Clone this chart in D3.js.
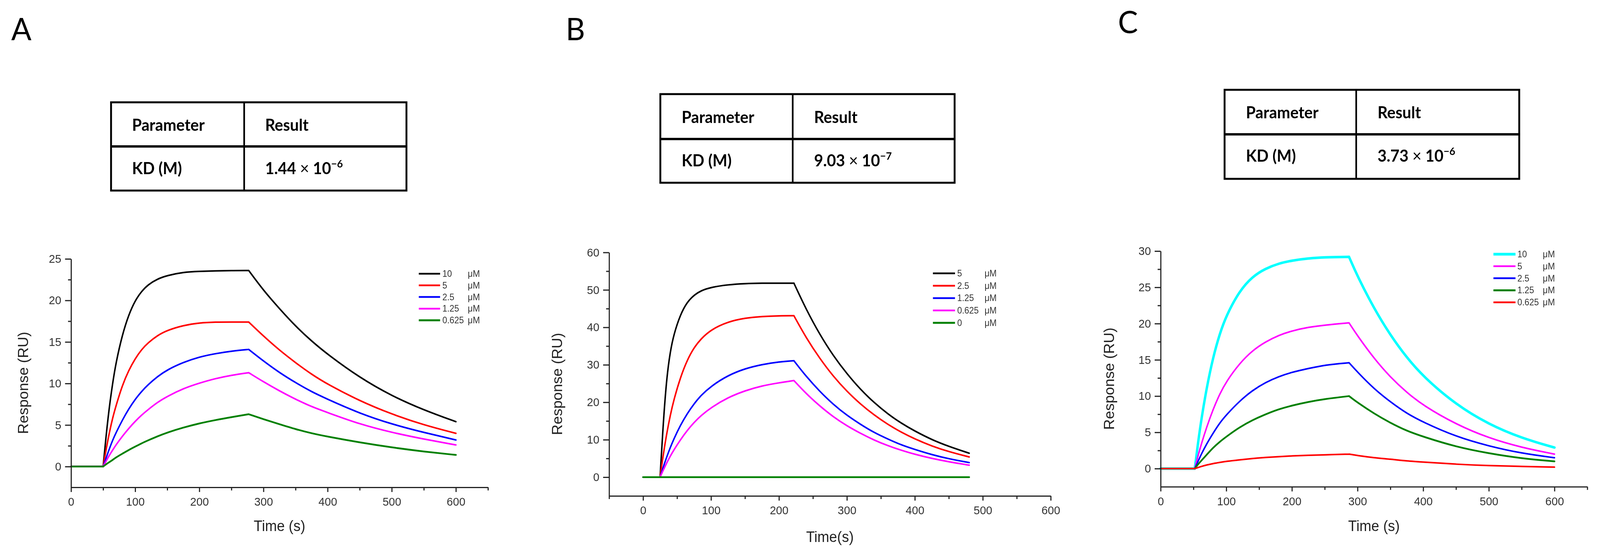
<!DOCTYPE html>
<html>
<head>
<meta charset="utf-8">
<script src="https://cdn.jsdelivr.net/npm/d3@7"></script>
<style>
    html, body { margin:0; padding:0; background:#fff; overflow:hidden; width:100%; height:100%; }
    #chart { position:fixed; left:0; top:0; width:100vw; height:100vh; }
    svg { display:block; width:100vw; height:100vh; }
</style>
</head>
<body>
<div id="chart"></div>
<script>
// ---------- values ----------
var panelLetters = ["A", "B", "C"];
var kdMantissa = ["1.44", "9.03", "3.73"];
var kdExponent = ["\u22126", "\u22127", "\u22126"];
var unitLabel = "\u03bcM";

// panel A
var timesA = [0,50,55,60,65,70,80,90,100,110,120,135,150,175,200,225,250,277,300,325,350,375,400,450,500,550,600];
var injectA = [50, 277];
var concA = ["10", "5", "2.5", "1.25", "0.625"];
var a10  = [0,0,4.0,7.4,10.1,12.5,15.9,18.3,20.0,21.1,21.9,22.6,23.0,23.4,23.5,23.55,23.6,23.6,21.2,19.0,16.9,15.1,13.5,10.7,8.5,6.8,5.4];
var a5   = [0,0,2.2,4.2,5.9,7.3,9.8,11.6,13.0,14.1,14.9,15.8,16.4,17.0,17.3,17.4,17.4,17.4,15.7,14.0,12.5,11.1,9.9,7.9,6.3,5.0,4.0];
var a25  = [0,0,1.1,2.2,3.2,4.05,5.6,6.95,8.1,9.05,9.85,10.85,11.65,12.55,13.2,13.6,13.9,14.1,12.7,11.3,10.1,9.0,8.1,6.4,5.1,4.1,3.2];
var a125 = [0,0,0.7,1.4,2.0,2.6,3.65,4.6,5.45,6.2,6.85,7.75,8.45,9.4,10.05,10.6,11.0,11.3,10.2,9.1,8.1,7.2,6.5,5.1,4.1,3.3,2.6];
var a0625= [0,0,0.3,0.55,0.8,1.1,1.55,2.0,2.4,2.8,3.15,3.65,4.1,4.7,5.2,5.6,5.95,6.3,5.7,5.1,4.5,4.0,3.6,2.9,2.3,1.8,1.4];
var xTicksA = [0,100,200,300,400,500,600];
var xMinorA = [50,150,250,350,450,550,650];
var yTicksA = [0,5,10,15,20,25];
var yMinorA = [2.5,7.5,12.5,17.5,22.5];

// panel B
var timesB = [0,25,30,35,40,45,55,65,75,85,100,125,150,175,200,222,240,260,280,300,320,340,360,380,400,425,450,480];
var injectB = [25, 222];
var concB = ["5", "2.5", "1.25", "0.625", "0"];
var b5   = [0,0,15.5,27.0,33.5,38.0,43.5,46.8,48.6,49.8,50.7,51.4,51.7,51.8,51.8,51.8,44.8,38.1,32.4,27.6,23.4,19.9,16.9,14.4,12.3,10.0,8.2,6.4];
var b25  = [0,0,6.4,11.9,16.5,20.5,26.7,31.3,34.6,36.9,39.4,41.5,42.5,42.9,43.1,43.1,37.2,31.7,26.9,22.9,19.5,16.6,14.1,12.0,10.2,8.3,6.8,5.4];
var b125 = [0,0,2.9,5.5,7.9,10.1,13.9,17.0,19.6,21.8,24.3,27.2,29.0,30.1,30.8,31.1,26.9,22.9,19.4,16.5,14.1,11.9,10.2,8.6,7.4,6.0,4.9,3.9];
var b0625= [0,0,2.0,3.9,5.6,7.2,10.0,12.5,14.6,16.4,18.6,21.3,23.1,24.4,25.2,25.8,22.3,19.0,16.1,13.7,11.7,9.9,8.4,7.2,6.1,5.0,4.1,3.2];
var b0   = [0,0,0,0,0,0,0,0,0,0,0,0,0,0,0,0,0,0,0,0,0,0,0,0,0,0,0,0];
var xTicksB = [0,100,200,300,400,500,600];
var xMinorB = [-50,50,150,250,350,450,550];
var yTicksB = [0,10,20,30,40,50,60];
var yMinorB = [5,15,25,35,45,55];

// panel C
var timesC = [0,52,57,62,70,80,90,100,120,140,160,180,200,225,250,287,300,325,350,375,400,450,500,550,600];
var injectC = [52, 287];
var concC = ["10", "5", "2.5", "1.25", "0.625"];
var c10  = [0,0,3.6,6.8,11.1,15.4,18.6,21.1,24.5,26.5,27.6,28.3,28.7,29.0,29.15,29.2,26.5,22.1,18.4,15.3,12.7,8.8,6.1,4.2,2.9];
var c5   = [0,0,1.8,3.4,5.7,8.2,10.3,12.0,14.5,16.3,17.5,18.4,19.0,19.5,19.8,20.1,18.3,15.2,12.6,10.5,8.7,6.1,4.2,2.9,2.0];
var c25  = [0,0,1.0,2.0,3.4,4.9,6.3,7.4,9.3,10.8,11.9,12.7,13.3,13.8,14.3,14.6,13.3,11.0,9.2,7.6,6.4,4.4,3.1,2.1,1.5];
var c125 = [0,0,0.6,1.1,1.9,2.9,3.7,4.4,5.7,6.7,7.5,8.2,8.7,9.2,9.6,10.0,9.1,7.6,6.3,5.2,4.4,3.0,2.1,1.4,1.0];
var c0625= [0,0,0.15,0.3,0.5,0.7,0.85,1.0,1.2,1.4,1.55,1.65,1.75,1.85,1.9,2.0,1.8,1.5,1.3,1.05,0.9,0.6,0.4,0.3,0.2];
var xTicksC = [0,100,200,300,400,500,600];
var xMinorC = [50,150,250,350,450,550,650];
var yTicksC = [0,5,10,15,20,25,30];
var yMinorC = [2.5,7.5,12.5,17.5,22.5,27.5];

// ---------- layout ----------
var W = 4279, H = 1429;
var axisColor = "#222";
var tickColor = "#333";
var sansAxis = "'Liberation Sans', Arial, sans-serif";
var sansTable = "Lato, 'Open Sans', sans-serif";

// the drawing is laid out in a 4279x1429 box and stretched to the window
var svg = d3.select('#chart').append('svg')
    .attr('viewBox', '0 0 ' + W + ' ' + H)
    .attr('preserveAspectRatio', 'none');
svg.append('rect').attr('width', W).attr('height', H).attr('fill', '#fff');

var panels = [
    {
        times: timesA, inject: injectA, series: [a10, a5, a25, a125, a0625], conc: concA,
        colors: ["#000000", "#ff0000", "#0000ff", "#ff00ff", "#008000"],
        widths: [4, 4, 4, 4, 4.5],
        xDomain: [0, 650], xRange: [190, 1305], yDomain: [-2.5, 25], yRange: [1248, 663],
        xTicks: xTicksA, xMinor: xMinorA, yTicks: yTicksA, yMinor: yMinorA,
        xTitle: "Time (s)", xTitleY: 1360, yTitleX: 62,
        legend: {lineX: 1120, lineW: 57, textX: 1183, unitX: 1251, y0: 701, dy: 29.8},
        letter: {x: 30, y: 103},
        table: {x: 297, y: 262, w: 790, h: 226, split: 653, row: 375, pad: 56, base1: 335, base2: 446}
    },
    {
        times: timesB, inject: injectB, series: [b5, b25, b125, b0625, b0], conc: concB,
        colors: ["#000000", "#ff0000", "#0000ff", "#ff00ff", "#008000"],
        widths: [4, 4, 4, 4, 4.5],
        xDomain: [-50, 600], xRange: [1629, 2810], yDomain: [-5, 60], yRange: [1270, 646.5],
        xTicks: xTicksB, xMinor: xMinorB, yTicks: yTicksB, yMinor: yMinorB,
        xTitle: "Time(s)", xTitleY: 1388, yTitleX: 1490,
        legend: {lineX: 2495, lineW: 59, textX: 2560, unitX: 2633, y0: 700, dy: 31.7},
        letter: {x: 1513, y: 103},
        table: {x: 1766, y: 241, w: 787, h: 227, split: 2120, row: 356, pad: 57, base1: 315, base2: 426}
    },
    {
        times: timesC, inject: injectC, series: [c10, c5, c25, c125, c0625], conc: concC,
        colors: ["#00ffff", "#ff00ff", "#0000ff", "#008000", "#ff0000"],
        widths: [6.5, 4, 4, 4.5, 4],
        xDomain: [0, 650], xRange: [3104, 4245], yDomain: [-2.5, 30], yRange: [1246.5, 643],
        xTicks: xTicksC, xMinor: xMinorC, yTicks: yTicksC, yMinor: yMinorC,
        xTitle: "Time (s)", xTitleY: 1360, yTitleX: 2966,
        legend: {lineX: 3994, lineW: 59, textX: 4058, unitX: 4126, y0: 651, dy: 30.8},
        letter: {x: 2990, y: 85},
        table: {x: 3275, y: 230, w: 788, h: 228, split: 3627, row: 344, pad: 57, base1: 303, base2: 414}
    }
];

function styleAxis(sel){
    sel.selectAll('line').attr('stroke', axisColor).attr('stroke-width', 3);
    sel.selectAll('path.domain').attr('stroke', axisColor).attr('stroke-width', 3);
    sel.selectAll('text')
        .attr('fill', tickColor)
        .attr('font-family', sansAxis)
        .attr('font-size', '30px');
}

function drawPanel(p, k){
    var x = d3.scaleLinear().domain(p.xDomain).range(p.xRange);
    var y = d3.scaleLinear().domain(p.yDomain).range(p.yRange);
    var g = svg.append('g').attr('class', 'panel-' + k);

    // curves: baseline, association and dissociation as separate smooth pieces
    var line = d3.line()
        .x(function(d){ return x(d[0]); })
        .y(function(d){ return y(d[1]); })
        .curve(d3.curveBasis);
    var i0 = p.times.indexOf(p.inject[0]);
    var i1 = p.times.indexOf(p.inject[1]);

    g.append('g').selectAll('path')
        .data(p.series)
        .enter().append('path')
        .attr('d', function(vals){
            var pts = p.times.map(function(t, i){ return [t, vals[i]]; });
            return line(pts.slice(0, i0 + 1)) + line(pts.slice(i0, i1 + 1)) + line(pts.slice(i1));
        })
        .attr('fill', 'none')
        .attr('stroke', function(d, i){ return p.colors[i]; })
        .attr('stroke-width', function(d, i){ return p.widths[i]; })
        .attr('stroke-linejoin', 'round')
        .attr('stroke-linecap', 'round');

    // axes
    var bottom = p.yRange[0], left = p.xRange[0];
    g.append('g').attr('transform', 'translate(0,' + bottom + ')')
        .call(d3.axisBottom(x).tickValues(p.xMinor).tickSize(8).tickFormat(''))
        .call(function(s){ s.select('.domain').remove(); })
        .call(styleAxis);
    g.append('g').attr('transform', 'translate(0,' + bottom + ')')
        .call(d3.axisBottom(x).tickValues(p.xTicks).tickSize(12).tickSizeOuter(0).tickPadding(14))
        .call(styleAxis);
    g.append('g').attr('transform', 'translate(' + left + ',0)')
        .call(d3.axisLeft(y).tickValues(p.yMinor).tickSize(8).tickFormat(''))
        .call(function(s){ s.select('.domain').remove(); })
        .call(styleAxis);
    g.append('g').attr('transform', 'translate(' + left + ',0)')
        .call(d3.axisLeft(y).tickValues(p.yTicks).tickSize(16).tickSizeOuter(0).tickPadding(10))
        .call(styleAxis);

    // axis titles
    g.append('text')
        .text(p.xTitle)
        .attr('x', (p.xRange[0] + p.xRange[1]) / 2)
        .attr('y', p.xTitleY)
        .attr('text-anchor', 'middle')
        .attr('fill', axisColor)
        .attr('font-family', sansAxis)
        .attr('font-size', '38px');
    g.append('text')
        .text('Response (RU)')
        .attr('transform', 'translate(' + p.yTitleX + ',' + ((p.yRange[0] + p.yRange[1]) / 2 + 25) + ') rotate(-90)')
        .attr('dy', '0.35em')
        .attr('text-anchor', 'middle')
        .attr('fill', axisColor)
        .attr('font-family', sansAxis)
        .attr('font-size', '38px');

    // legend
    var lg = p.legend;
    var rows = g.append('g').selectAll('g')
        .data(p.conc)
        .enter().append('g')
        .attr('transform', function(d, i){ return 'translate(0,' + (lg.y0 + i * lg.dy) + ')'; });
    rows.append('line')
        .attr('x1', lg.lineX).attr('x2', lg.lineX + lg.lineW)
        .attr('y1', 0).attr('y2', 0)
        .attr('stroke', function(d, i){ return p.colors[i]; })
        .attr('stroke-width', function(d, i){ return p.widths[i] + 0.5; });
    rows.append('text')
        .text(function(d){ return d; })
        .attr('x', lg.textX).attr('y', 8)
        .attr('fill', tickColor)
        .attr('font-family', sansAxis)
        .attr('font-size', '23px');
    rows.append('text')
        .text(unitLabel)
        .attr('x', lg.unitX).attr('y', 8)
        .attr('fill', tickColor)
        .attr('font-family', sansAxis)
        .attr('font-size', '23px');

    // panel letter
    svg.append('text')
        .text(panelLetters[k])
        .attr('x', p.letter.x).attr('y', p.letter.y)
        .attr('fill', '#000')
        .attr('font-family', sansTable)
        .attr('font-size', '80px');

    drawTable(p.table, k);
}

function drawTable(t, k){
    var tg = svg.append('g').attr('class', 'kd-table');
    tg.append('rect')
        .attr('x', t.x).attr('y', t.y)
        .attr('width', t.w).attr('height', t.h)
        .attr('fill', '#fff')
        .attr('stroke', '#000').attr('stroke-width', 5);
    tg.append('line')
        .attr('x1', t.x).attr('x2', t.x + t.w)
        .attr('y1', t.row).attr('y2', t.row)
        .attr('stroke', '#000').attr('stroke-width', 6);
    tg.append('line')
        .attr('x1', t.split).attr('x2', t.split)
        .attr('y1', t.y).attr('y2', t.y + t.h)
        .attr('stroke', '#000').attr('stroke-width', 4.5);

    var cells = [
        {x: t.x + t.pad, y: t.base1, s: 'Parameter'},
        {x: t.split + t.pad, y: t.base1, s: 'Result'},
        {x: t.x + t.pad, y: t.base2, s: 'KD (M)'}
    ];
    tg.selectAll('text.cell')
        .data(cells)
        .enter().append('text')
        .attr('class', 'cell')
        .text(function(d){ return d.s; })
        .attr('x', function(d){ return d.x; })
        .attr('y', function(d){ return d.y; })
        .attr('fill', '#000')
        .attr('font-family', sansTable)
        .attr('font-weight', 'bold')
        .attr('font-size', '42px');

    var v = tg.append('text')
        .attr('x', t.split + t.pad).attr('y', t.base2)
        .attr('fill', '#000')
        .attr('font-family', sansTable)
        .attr('font-size', '42px');
    v.append('tspan').attr('font-weight', 'bold').text(kdMantissa[k] + ' ');
    v.append('tspan').text('\u00d7');
    v.append('tspan').attr('font-weight', 'bold').text(' 10');
    v.append('tspan').attr('font-weight', 'bold').attr('font-size', '27px').attr('dy', -17).text(kdExponent[k]);
}

panels.forEach(drawPanel);
</script>
</body>
</html>
